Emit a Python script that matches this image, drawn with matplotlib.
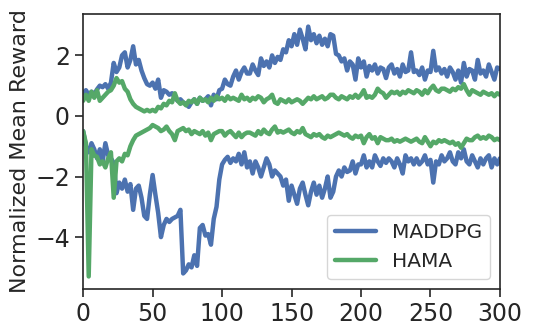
import matplotlib
matplotlib.use('Agg')
import matplotlib.pyplot as plt
import numpy as np
import seaborn as sns

# training steps (every 2nd step)
steps = np.arange(0, 301, 2)

maddpg_hi = [
    0.75, 0.85, 0.70, 0.80, 0.72, 0.88, 1.00, 0.95, 1.05, 0.90,
    1.10, 1.75, 1.45, 1.60, 2.00, 2.10, 1.60, 1.85, 2.30, 1.70,
    1.85, 1.50, 1.25, 1.05, 1.00, 1.10, 0.90, 1.20, 0.60, 0.85,
    0.80, 0.70, 0.75, 0.60, 0.50, 0.55, 0.45, 0.40, 0.30, 0.45,
    0.55, 0.40, 0.60, 0.50, 0.55, 0.65, 0.35, 0.70, 0.55, 0.85,
    0.90, 1.20, 1.05, 1.00, 1.30, 1.50, 1.20, 1.45, 1.60, 1.40,
    1.40, 1.70, 1.50, 1.35, 1.90, 1.65, 1.80, 1.60, 2.00, 1.75,
    1.95, 1.85, 2.20, 2.10, 2.50, 2.30, 2.70, 2.35, 2.85, 2.55,
    2.20, 2.95, 2.50, 2.70, 2.40, 2.65, 2.35, 2.55, 2.30, 2.70,
    2.65, 2.05, 2.00, 1.80, 1.90, 1.50, 1.80, 1.70, 1.20, 1.90,
    1.60, 1.80, 1.30, 1.65, 1.50, 1.70, 1.40, 1.60, 1.55, 1.25,
    1.60, 1.70, 1.40, 1.55, 1.30, 1.70, 1.45, 1.50, 2.10, 1.45,
    1.50, 1.35, 1.60, 1.20, 1.50, 1.45, 2.15, 1.50, 1.60, 1.40,
    1.55, 1.30, 1.60, 1.45, 1.20, 1.50, 1.10, 1.75, 1.30, 1.55,
    1.50, 1.20, 1.85, 1.40, 1.50, 1.30, 1.70, 1.45, 1.20, 1.60,
    1.55,
]

maddpg_lo = [
    -0.50, -1.00, -1.20, -0.90, -1.10, -1.40, -1.10, -1.50, -0.90, -1.30,
    -1.40, -1.55, -2.55, -2.20, -2.40, -2.10, -2.50, -2.25, -3.10, -2.40,
    -2.30, -2.70, -3.30, -3.40, -2.60, -1.95, -2.60, -3.20, -4.00, -3.60,
    -3.40, -3.50, -3.40, -3.35, -3.30, -3.10, -5.20, -5.10, -4.90, -5.00,
    -4.60, -4.95, -3.70, -3.60, -3.95, -3.90, -4.25, -3.40, -3.00, -2.10,
    -1.60, -1.45, -1.35, -1.55, -1.40, -1.50, -1.25, -1.60, -1.20, -1.70,
    -1.50, -1.90, -1.50, -1.70, -2.00, -1.70, -1.40, -1.60, -2.00, -1.80,
    -1.90, -2.00, -2.30, -2.10, -2.80, -2.30, -2.60, -2.90, -2.40, -2.20,
    -2.60, -2.95, -2.50, -2.20, -2.60, -2.30, -2.70, -2.40, -2.00, -2.70,
    -2.50, -2.00, -1.80, -2.00, -1.70, -1.85, -1.80, -1.50, -1.90, -1.60,
    -1.60, -1.30, -1.70, -1.50, -1.70, -1.30, -1.50, -1.65, -1.40, -1.55,
    -1.40, -1.50, -1.70, -1.40, -1.60, -1.90, -1.30, -1.50, -1.40, -1.60,
    -1.40, -1.60, -1.50, -1.30, -1.60, -1.45, -2.20, -1.50, -1.60, -1.30,
    -1.50, -1.40, -1.20, -1.50, -1.60, -1.20, -1.40, -1.10, -1.50, -1.60,
    -1.30, -1.50, -1.70, -1.40, -1.60, -1.40, -1.30, -1.70, -1.40, -1.60,
    -1.40,
]

hama_hi = [
    0.50, 0.70, 0.50, 0.80, 0.60, 0.85, 0.50, 0.60, 0.70, 0.80,
    0.85, 1.00, 1.25, 1.10, 1.15, 0.90, 0.80, 0.55, 0.40, 0.30,
    0.25, 0.20, 0.15, 0.20, 0.15, 0.20, 0.15, 0.30, 0.25, 0.40,
    0.35, 0.50, 0.45, 0.75, 0.50, 0.40, 0.45, 0.35, 0.50, 0.45,
    0.55, 0.40, 0.60, 0.50, 0.55, 0.45, 0.60, 0.50, 0.65, 0.55,
    0.60, 0.50, 0.65, 0.55, 0.60, 0.55, 0.50, 0.70, 0.55, 0.60,
    0.50, 0.60, 0.55, 0.65, 0.60, 0.45, 0.55, 0.60, 0.70, 0.45,
    0.40, 0.55, 0.50, 0.45, 0.55, 0.45, 0.50, 0.55, 0.50, 0.40,
    0.50, 0.60, 0.55, 0.65, 0.55, 0.60, 0.65, 0.55, 0.60, 0.70,
    0.70, 0.60, 0.55, 0.65, 0.60, 0.55, 0.65, 0.60, 0.70, 0.60,
    0.70, 0.85, 0.60, 0.65, 0.60, 0.70, 0.90, 0.80, 0.75, 0.60,
    0.70, 0.80, 0.75, 0.80, 0.70, 0.80, 0.75, 0.85, 0.80, 0.75,
    0.85, 0.80, 0.70, 0.85, 0.75, 0.90, 1.00, 0.85, 0.80, 0.90,
    0.90, 0.85, 0.80, 0.90, 0.85, 0.95, 0.90, 1.05, 0.85, 0.70,
    0.85, 0.80, 0.75, 0.70, 0.80, 0.75, 0.70, 0.75, 0.65, 0.75,
    0.70,
]

hama_lo = [
    -0.50, -0.90, -5.30, -1.10, -1.30, -1.35, -1.60, -1.50, -1.70, -1.40,
    -1.20, -2.70, -1.50, -1.40, -1.50, -1.25, -1.30, -1.00, -0.80, -0.65,
    -0.60, -0.55, -0.50, -0.45, -0.40, -0.30, -0.35, -0.40, -0.50, -0.45,
    -0.35, -0.50, -0.60, -0.80, -0.50, -0.45, -0.40, -0.50, -0.45, -0.60,
    -0.50, -0.55, -0.60, -0.50, -0.65, -0.55, -0.80, -0.60, -0.55, -0.50,
    -0.50, -0.65, -0.55, -0.50, -0.60, -0.70, -0.55, -0.70, -0.60, -0.55,
    -0.55, -0.60, -0.65, -0.50, -0.60, -0.45, -0.55, -0.60, -0.45, -0.35,
    -0.55, -0.50, -0.55, -0.50, -0.45, -0.55, -0.60, -0.50, -0.55, -0.40,
    -0.60, -0.65, -0.70, -0.60, -0.65, -0.60, -0.70, -0.75, -0.65, -0.70,
    -0.65, -0.60, -0.55, -0.60, -0.65, -0.60, -0.70, -0.75, -0.65, -0.70,
    -0.65, -0.90, -0.70, -0.60, -0.75, -0.70, -0.90, -0.70, -0.75, -0.80,
    -0.80, -0.75, -0.85, -0.80, -0.85, -0.80, -0.75, -0.80, -0.85, -0.80,
    -0.75, -0.85, -0.90, -0.70, -0.85, -1.00, -0.85, -0.90, -0.80, -0.85,
    -0.80, -0.85, -0.90, -0.85, -0.95, -0.90, -1.05, -0.90, -0.75, -0.80,
    -0.80, -0.70, -0.65, -0.75, -0.70, -0.75, -0.65, -0.70, -0.80, -0.75,
    -0.80,
]

sns.set_style('ticks')
plt.rcParams['font.family'] = ['DejaVu Sans']
blue, green = sns.color_palette('deep')[0], sns.color_palette('deep')[2]

fig, ax = plt.subplots(figsize=(5.33, 3.28), dpi=100)
fig.subplots_adjust(left=0.156, right=0.938, top=0.957, bottom=0.119)

ax.plot(steps, maddpg_hi, color=blue, lw=3.2, label='MADDPG')
ax.plot(steps, maddpg_lo, color=blue, lw=3.2)
ax.plot(steps, hama_hi, color=green, lw=3.2, label='HAMA')
ax.plot(steps, hama_lo, color=green, lw=3.2)

ax.set_xlim(0, 300)
ax.set_xticks([0, 50, 100, 150, 200, 250, 300])
ax.set_yticks([-4, -2, 0, 2])
ax.set_ylabel('Normalized Mean Reward', fontsize=16)
ax.tick_params(labelsize=17, length=6, width=1.2)
for s in ax.spines.values():
    s.set_linewidth(1.2)
ax.legend(loc='lower right', fontsize=14.5)

fig.savefig('out.png', dpi=100)
